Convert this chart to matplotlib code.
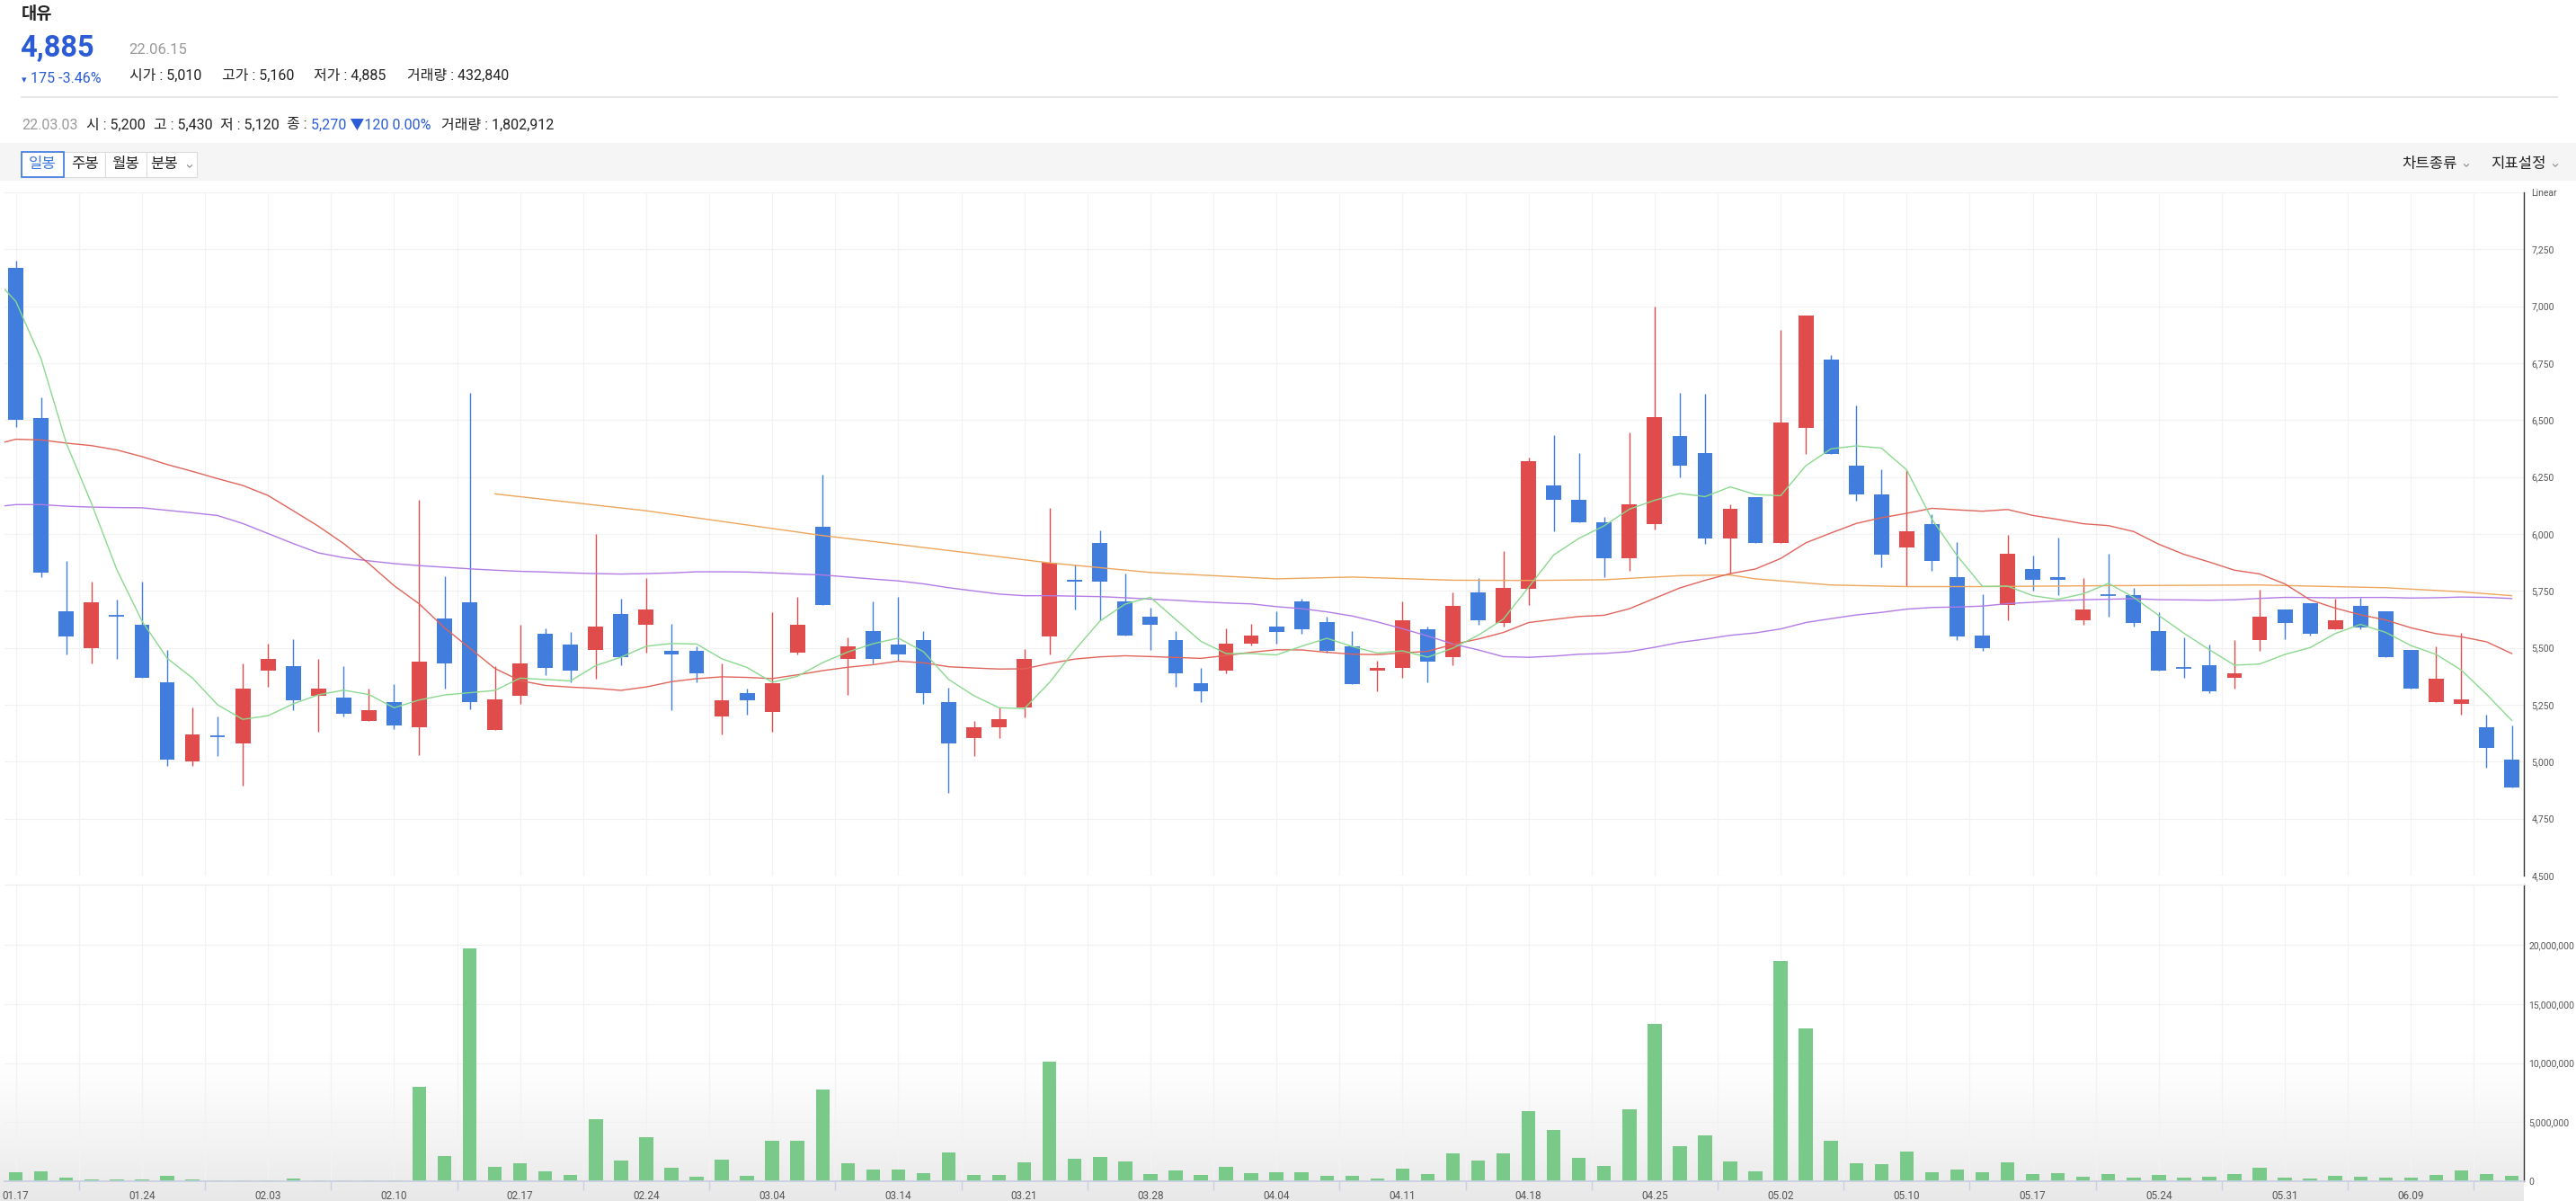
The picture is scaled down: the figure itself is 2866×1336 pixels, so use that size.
import numpy as np
import pandas as pd
import matplotlib

matplotlib.use("Agg")
import matplotlib.pyplot as plt
from matplotlib.patches import Rectangle
from matplotlib.lines import Line2D
from matplotlib.colors import LinearSegmentedColormap

plt.rcParams["font.family"] = ["Roboto", "Noto Sans CJK KR", "DejaVu Sans"]

# ---- daily candles ----
opens = [7170, 6510, 5660, 5500, 5640, 5600, 5350, 5000, 5110, 5080,
         5400, 5420, 5290, 5280, 5180, 5260, 5150, 5630, 5700, 5140,
         5290, 5560, 5515, 5490, 5650, 5600, 5485, 5485, 5200, 5300,
         5220, 5480, 6030, 5450, 5575, 5515, 5535, 5260, 5105, 5150,
         5240, 5550, 5800, 5960, 5705, 5635, 5535, 5345, 5400, 5520,
         5595, 5705, 5615, 5505, 5400, 5410, 5580, 5460, 5745, 5610,
         5760, 6215, 6150, 6050, 5895, 6045, 6430, 6355, 5980, 6160,
         5960, 6465, 6765, 6300, 6175, 5940, 6045, 5810, 5555, 5690,
         5845, 5810, 5620, 5730, 5730, 5575, 5410, 5425, 5370, 5535,
         5670, 5695, 5580, 5685, 5660, 5490, 5260, 5255, 5150, 5010]
highs = [7200, 6600, 5880, 5790, 5710, 5790, 5490, 5240, 5200, 5430,
         5520, 5540, 5450, 5420, 5320, 5340, 6150, 5815, 6620, 5420,
         5600, 5585, 5570, 6000, 5715, 5805, 5605, 5505, 5430, 5320,
         5655, 5725, 6260, 5545, 5705, 5725, 5575, 5325, 5180, 5240,
         5495, 6115, 5865, 6015, 5825, 5675, 5575, 5410, 5585, 5605,
         5660, 5715, 5635, 5575, 5445, 5705, 5595, 5745, 5805, 5925,
         6335, 6435, 6355, 6075, 6445, 7000, 6620, 6615, 6130, 6160,
         6895, 6960, 6785, 6565, 6285, 6280, 6085, 5965, 5735, 5995,
         5905, 5985, 5805, 5915, 5765, 5655, 5545, 5515, 5535, 5755,
         5670, 5695, 5715, 5720, 5660, 5490, 5505, 5565, 5205, 5160]
lows = [6470, 5810, 5470, 5430, 5450, 5370, 4980, 4980, 5025, 4895,
        5330, 5225, 5130, 5200, 5180, 5145, 5030, 5320, 5230, 5140,
        5255, 5380, 5350, 5365, 5425, 5480, 5225, 5350, 5120, 5205,
        5130, 5470, 5690, 5295, 5430, 5445, 5255, 4865, 5025, 5105,
        5195, 5470, 5670, 5620, 5552, 5490, 5330, 5260, 5390, 5510,
        5520, 5560, 5480, 5340, 5310, 5370, 5350, 5425, 5600, 5595,
        5690, 6010, 6050, 5810, 5840, 6020, 6250, 5955, 5825, 5960,
        5960, 6350, 6350, 6145, 5855, 5770, 5840, 5535, 5485, 5620,
        5750, 5730, 5600, 5635, 5595, 5400, 5370, 5300, 5320, 5485,
        5540, 5552, 5580, 5580, 5460, 5320, 5260, 5205, 4975, 4885]
closes = [6500, 5830, 5550, 5700, 5640, 5370, 5010, 5120, 5110, 5320,
          5450, 5270, 5320, 5210, 5225, 5160, 5440, 5430, 5260, 5275,
          5430, 5410, 5400, 5595, 5460, 5670, 5470, 5390, 5270, 5270,
          5345, 5600, 5690, 5505, 5450, 5470, 5300, 5080, 5150, 5185,
          5450, 5875, 5790, 5790, 5555, 5600, 5390, 5310, 5520, 5555,
          5570, 5580, 5485, 5340, 5410, 5620, 5440, 5685, 5620, 5765,
          6320, 6150, 6050, 5895, 6130, 6515, 6300, 5980, 6110, 5960,
          6490, 6960, 6350, 6175, 5910, 6010, 5880, 5550, 5500, 5915,
          5800, 5800, 5670, 5730, 5610, 5400, 5410, 5310, 5390, 5635,
          5610, 5560, 5620, 5590, 5460, 5320, 5365, 5275, 5060, 4885]
volumes = [780000, 840000, 300000, 150000, 150000, 150000, 460000, 150000, 90000, 90000,
           90000, 230000, 90000, 90000, 90000, 90000, 8000000, 2100000, 19700000, 1200000,
           1500000, 840000, 530000, 5250000, 1750000, 3700000, 1140000, 380000, 1802912, 460000,
           3400000, 3400000, 7750000, 1500000, 1000000, 1000000, 680000, 2400000, 530000, 530000,
           1600000, 10100000, 1900000, 2050000, 1670000, 600000, 900000, 530000, 1200000, 680000,
           760000, 760000, 460000, 460000, 230000, 1060000, 600000, 2360000, 1750000, 2360000,
           5950000, 4300000, 1980000, 1300000, 6100000, 13300000, 3000000, 3860000, 1670000, 840000,
           18600000, 12900000, 3400000, 1520000, 1450000, 2500000, 760000, 1000000, 760000, 1600000,
           600000, 680000, 380000, 600000, 300000, 530000, 300000, 380000, 600000, 1140000,
           300000, 230000, 460000, 380000, 300000, 300000, 530000, 910000, 600000, 432840]

date_labels = ["01.17", "01.24", "02.03", "02.10", "02.17", "02.24", "03.04", "03.14", "03.21", "03.28",
               "04.04", "04.11", "04.18", "04.25", "05.02", "05.10", "05.17", "05.24", "05.31", "06.09"]

ma5_head = [7140, 7021, 6769, 6398, 6134]
ma20_head = [6388, 6416, 6413, 6399, 6388, 6369, 6340, 6305, 6275, 6243, 6213,
             6169, 6102, 6034, 5958, 5870, 5773, 5693, 5588, 5499]
ma60_head = [6117,
             6129, 6129, 6122, 6118, 6116, 6115, 6104, 6093, 6081, 6046,
             6002, 5958, 5917, 5896, 5882, 5870, 5861, 5854, 5847, 5841,
             5836, 5833, 5829, 5826, 5824, 5826, 5829, 5834, 5834, 5833,
             5829, 5824, 5820, 5811, 5802, 5794, 5781, 5764, 5750, 5736,
             5729, 5729, 5727, 5725, 5720, 5714, 5709, 5702, 5697, 5693,
             5681, 5672, 5658, 5640, 5614, 5584, 5552, 5517, 5491]
ma120_days = [19, 25, 32, 35, 38, 41, 45, 50, 53, 57, 60, 63, 65, 66, 68, 69, 70, 72, 75, 78, 83, 89, 94, 97, 99]
ma120_vals = [6176, 6102, 5993, 5954, 5914, 5873, 5831, 5803, 5811, 5797, 5796, 5799, 5811, 5817, 5820,
              5803, 5794, 5776, 5769, 5769, 5773, 5776, 5764, 5746, 5729]

price_ticks = [4500, 4750, 5000, 5250, 5500, 5750, 6000, 6250, 6500, 6750, 7000, 7250, 7500]
volume_ticks = [0, 5000000, 10000000, 15000000, 20000000]

# ---- colours ----
UP = "#e04b4c"
DOWN = "#417ddc"
BLUE_TXT = "#2b5cd6"
GRID = "#f2f2f2"

W, H = 2866, 1336


def fx(x):
    return x / W


def fy(y):
    return 1 - y / H


def add_ax(x0, y0, x1, y1, **kw):
    return fig.add_axes([x0 / W, 1 - y1 / H, (x1 - x0) / W, (y1 - y0) / H], **kw)


def chevron(x, y, s=3.5, color="#888"):
    fig.add_artist(Line2D([fx(x - s), fx(x), fx(x + s)], [fy(y - s / 2), fy(y + s / 2), fy(y - s / 2)],
                          transform=fig.transFigure, color=color, lw=0.8))


fig = plt.figure(figsize=(W / 100, H / 100), dpi=100)
fig.patch.set_facecolor("white")

# ---- header ----
fig.text(fx(24), fy(16), "대유", fontsize=13.5, weight="bold", color="#222", va="center")
fig.text(fx(22), fy(54), "4,885", fontsize=23.5, weight="bold", color=BLUE_TXT, va="center")
fig.text(fx(143), fy(56), "22.06.15", fontsize=12, color="#9a9a9a", va="center")
fig.text(fx(24), fy(89), "▾", fontsize=8, color=BLUE_TXT, va="center")
fig.text(fx(34), fy(88), "175 -3.46%", fontsize=11.5, color=BLUE_TXT, va="center")
for label, x in [("시가 : 5,010", 144), ("고가 : 5,160", 247), ("저가 : 4,885", 349), ("거래량 : 432,840", 453)]:
    fig.text(fx(x), fy(84), label, fontsize=11.5, color="#222", va="center")
fig.add_artist(Line2D([fx(24), fx(2845)], [fy(108), fy(108)], transform=fig.transFigure, color="#e2e2e2", lw=1.2))

row2 = [("22.03.03", 24, "#9a9a9a"), ("시 : 5,200", 96, "#222"), ("고 : 5,430", 171, "#222"),
        ("저 : 5,120", 245, "#222"), ("종 :", 319, "#222"), ("5,270 ▼120 0.00%", 346, BLUE_TXT),
        ("거래량 : 1,802,912", 491, "#222")]
for label, x, c in row2:
    fig.text(fx(x), fy(139), label, fontsize=11.5, color=c, va="center")

# toolbar
fig.add_artist(Rectangle((0, fy(201)), 1, (201 - 159) / H, transform=fig.transFigure,
                         facecolor="#f5f5f5", edgecolor="none"))
buttons = [("일봉", 24, 71), ("주봉", 71, 117), ("월봉", 117, 163), ("분봉", 163, 219)]
for k, (label, x0, x1) in enumerate(buttons):
    fig.add_artist(Rectangle((fx(x0), fy(197)), (x1 - x0) / W, 28 / H, transform=fig.transFigure,
                             facecolor="white", edgecolor="#dcdcdc", lw=0.8))
for k, (label, x0, x1) in enumerate(buttons):
    if k == 0:
        fig.add_artist(Rectangle((fx(x0), fy(197)), (x1 - x0) / W, 28 / H, transform=fig.transFigure,
                                 facecolor="none", edgecolor="#3b79e0", lw=1.2))
        fig.text(fx((x0 + x1) / 2), fy(183), label, fontsize=12, color="#3b79e0", ha="center", va="center")
    elif k == 3:
        fig.text(fx(x0 + 4), fy(183), label, fontsize=12, color="#222", ha="left", va="center")
        chevron(x1 - 8, 185, 2.5)
    else:
        fig.text(fx((x0 + x1) / 2), fy(183), label, fontsize=12, color="#222", ha="center", va="center")
fig.text(fx(2672), fy(182), "차트종류", fontsize=12, color="#222", va="center")
chevron(2744, 184, 2.5)
fig.text(fx(2771), fy(182), "지표설정", fontsize=12, color="#222", va="center")
chevron(2843, 184, 2.5)

# ---- bottom gradient ----
bg = add_ax(0, 1170, 2808, 1336)
grad = np.linspace(0, 1, 200).reshape(-1, 1) ** 1.3
cmap = LinearSegmentedColormap.from_list("g", ["#ffffff", "#e8e8e8"])
bg.imshow(grad, aspect="auto", cmap=cmap, extent=[0, 1, 0, 1], origin="upper")
bg.axis("off")

# ---- moving averages ----
ma_x = np.arange(-1, len(closes))
cs = pd.Series(closes, dtype=float)
ma5 = np.concatenate([ma5_head, cs.rolling(5).mean().to_numpy()[4:]])
ma20 = np.concatenate([ma20_head, cs.rolling(20).mean().to_numpy()[19:]])
ma60 = np.concatenate([ma60_head, cs.rolling(60).mean().to_numpy()[59:]])

n = len(closes)
idx = np.arange(n)
XL = (-0.47, n - 0.52)

# ---- price panel ----
ax = add_ax(4.5, 214, 2808, 974)
ax.set_xlim(*XL)
ax.set_ylim(price_ticks[0], price_ticks[-1])
for i in idx:
    o, h, l, c = opens[i], highs[i], lows[i], closes[i]
    col = UP if c > o else DOWN
    ax.vlines(i, l, h, color=col, lw=1.0, zorder=2)
    if o == c:
        ax.hlines(o, i - 0.3, i + 0.3, color=col, lw=1.3, zorder=2)
    else:
        ax.bar(i, abs(c - o), bottom=min(o, c), width=0.6, color=col, zorder=2)
ax.plot(ma_x, ma60, color="#b27be6", lw=1.0, zorder=3)
ax.plot(ma120_days, ma120_vals, color="#eea55c", lw=1.0, zorder=3)
ax.plot(ma_x, ma20, color="#e0645a", lw=1.0, zorder=3)
ax.plot(ma_x, ma5, color="#8ad98e", lw=1.0, zorder=3)

ax.set_xticks(np.arange(0, n, 2.5))
ax.set_xticklabels([])
ax.tick_params(axis="x", length=0)
ax.yaxis.tick_right()
ax.set_yticks(price_ticks)
ax.set_yticklabels([f"{v:,}" for v in price_ticks[:-1]] + ["Linear"])
ax.tick_params(axis="y", length=0, pad=6, labelsize=7.5, labelcolor="#555")
ax.grid(True, color=GRID, lw=0.9, zorder=0)
ax.set_axisbelow(True)
for s in ["top", "left", "bottom"]:
    ax.spines[s].set_visible(False)
ax.spines["right"].set_color("#333")
ax.spines["right"].set_linewidth(1.0)

# ---- volume panel ----
axv = add_ax(4.5, 984, 2808, 1314)
axv.patch.set_alpha(0)
axv.set_xlim(*XL)
axv.set_ylim(0, 25100000)
axv.bar(idx, volumes, width=0.55, color="#79c988", zorder=2)
axv.set_xticks(np.arange(0, n, 5))
axv.set_xticklabels(date_labels)
axv.set_xticks(np.arange(2.5, n, 5), minor=True)
axv.tick_params(axis="x", which="major", length=0, pad=7, labelsize=8.5, labelcolor="#555")
axv.tick_params(axis="x", which="minor", length=7, width=1.0, color="#c9d0e2")
axv.yaxis.tick_right()
axv.set_yticks(volume_ticks)
axv.set_yticklabels([f"{v:,}" for v in volume_ticks])
axv.tick_params(axis="y", length=0, pad=4, labelsize=7.5, labelcolor="#555")
axv.grid(True, which="both", axis="x", color=GRID, lw=0.9, zorder=0)
axv.grid(True, axis="y", color=GRID, lw=0.9, zorder=0)
axv.set_axisbelow(True)
axv.spines["left"].set_visible(False)
axv.spines["top"].set_color("#ececec")
axv.spines["bottom"].set_color("#c9d0e2")
axv.spines["bottom"].set_linewidth(1.3)
axv.spines["right"].set_color("#333")
axv.spines["right"].set_linewidth(1.0)

fig.savefig("out.png", dpi=100, facecolor="white")
